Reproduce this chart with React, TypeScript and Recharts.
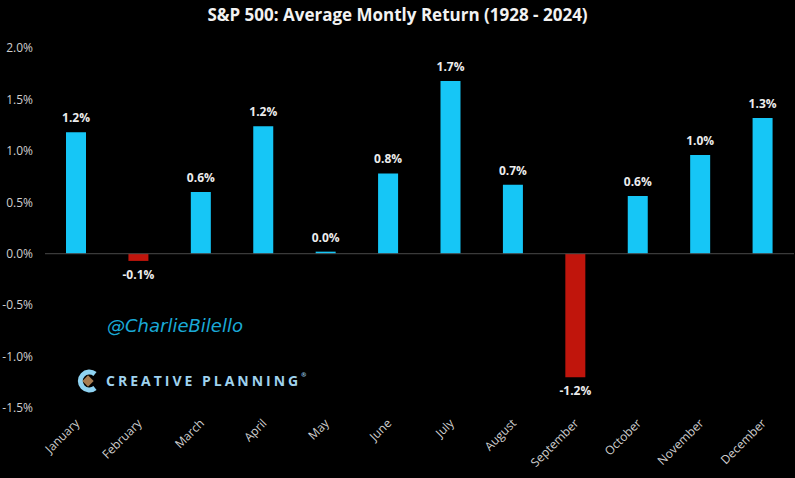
import React from "react";
import {
  BarChart,
  Bar,
  XAxis,
  YAxis,
  Cell,
  LabelList,
  ReferenceLine,
} from "recharts";

// ─── Data ─────────────────────────────────────────────────────────────────────
const MONTHS = [
  "January",
  "February",
  "March",
  "April",
  "May",
  "June",
  "July",
  "August",
  "September",
  "October",
  "November",
  "December",
];

const AVG_RETURN = [1.18, -0.07, 0.6, 1.24, 0.02, 0.78, 1.68, 0.67, -1.2, 0.56, 0.96, 1.32];

const Y_TICKS = [-1.5, -1.0, -0.5, 0, 0.5, 1.0, 1.5, 2.0];

const data = MONTHS.map((month, i) => ({ month, value: AVG_RETURN[i] }));

const POS = "#16c6f6";
const NEG = "#c0150c";
const FONT = "'Open Sans', 'Liberation Sans', sans-serif";

function ValueLabel({ x, y, width, height, value }: any) {
  const v = Number(value);
  const cx = Number(x) + Number(width) / 2;
  const top = Number(y);
  const h = Number(height);
  const ty = v >= 0 ? Math.min(top, top + h) - 10 : Math.max(top, top + h) + 18;
  return (
    <text
      x={cx}
      y={ty}
      textAnchor="middle"
      fill="#ececec"
      fontSize={12}
      fontWeight={700}
      fontFamily={FONT}
    >
      {`${v.toFixed(1)}%`}
    </text>
  );
}

function MonthTick({ x, y, payload }: any) {
  return (
    <text
      x={x + 4}
      y={y + 8}
      textAnchor="end"
      fill="#cfcfcf"
      fontSize={12}
      fontFamily={FONT}
      transform={`rotate(-45, ${x + 4}, ${y + 8})`}
    >
      {payload.value}
    </text>
  );
}

export default function App() {
  return (
    <div
      style={{
        position: "absolute",
        left: 0,
        top: 0,
        width: 795,
        height: 478,
        background: "#000",
        overflow: "hidden",
        fontFamily: FONT,
      }}
    >
      <div
        style={{
          position: "absolute",
          top: 3,
          left: 0,
          width: 795,
          textAlign: "center",
          color: "#f2f2f2",
          fontSize: 17,
          fontWeight: 700,
        }}
      >
        S&amp;P 500: Average Montly Return (1928 - 2024)
      </div>

      <BarChart
        width={795}
        height={478}
        data={data}
        margin={{ top: 48, right: 1, left: 0, bottom: 0 }}
        barSize={20}
      >
        <XAxis
          dataKey="month"
          axisLine={false}
          tickLine={false}
          interval={0}
          tick={<MonthTick />}
          height={70}
        />
        <YAxis
          domain={[-1.5, 2.0]}
          ticks={Y_TICKS}
          width={45}
          axisLine={false}
          tickLine={false}
          tickSize={0}
          tickMargin={12}
          tickFormatter={(v: number) => `${v.toFixed(1)}%`}
          tick={{ fill: "#cfcfcf", fontSize: 12, fontFamily: FONT }}
        />
        <ReferenceLine y={0} stroke="#4a4a4a" strokeWidth={1} />
        <Bar dataKey="value" isAnimationActive={false}>
          {data.map((d, i) => (
            <Cell key={i} fill={d.value >= 0 ? POS : NEG} />
          ))}
          <LabelList dataKey="value" content={<ValueLabel />} />
        </Bar>
      </BarChart>

      {/* Watermarks */}
      <div
        style={{
          position: "absolute",
          left: 107,
          top: 315,
          color: "#1aa9d6",
          fontSize: 18,
          fontStyle: "italic",
          fontFamily: "'DejaVu Sans', sans-serif",
        }}
      >
        @CharlieBilello
      </div>
      <svg style={{ position: "absolute", left: 76, top: 369 }} width={24} height={24}>
        <path
          d="M19 5 A9 9 0 1 0 19 19"
          fill="none"
          stroke="#8fd3f2"
          strokeWidth={5}
        />
        <rect x={8} y={8} width={8} height={8} fill="#a67c52" transform="rotate(45 12 12)" />
      </svg>
      <div
        style={{
          position: "absolute",
          left: 106,
          top: 371,
          color: "#9fd2ee",
          fontSize: 14,
          fontWeight: 700,
          letterSpacing: 3,
        }}
      >
        CREATIVE PLANNING
        <span style={{ fontSize: 6, letterSpacing: 0, verticalAlign: "top" }}>®</span>
      </div>
    </div>
  );
}
